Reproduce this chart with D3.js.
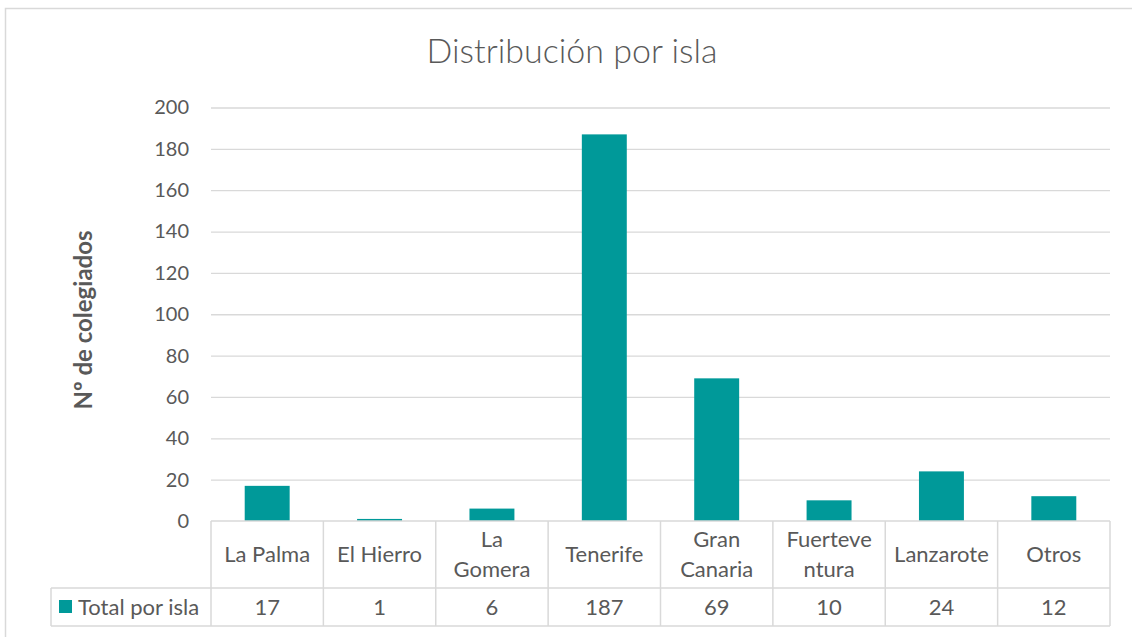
<!DOCTYPE html>
<html>
<head>
<meta charset="utf-8">
<script src="https://cdn.jsdelivr.net/npm/d3@7"></script>
<style>
  body { margin: 0; background: #fff; }
  text { font-family: Lato, "Open Sans", sans-serif; fill: #595959; }
</style>
</head>
<body>
<div id="chart"></div>
<script>
// data
const categories = ["La Palma", "El Hierro", "La Gomera", "Tenerife", "Gran Canaria", "Fuerteventura", "Lanzarote", "Otros"];
const categoryLines = [["La Palma"], ["El Hierro"], ["La", "Gomera"], ["Tenerife"], ["Gran", "Canaria"], ["Fuerteve", "ntura"], ["Lanzarote"], ["Otros"]];
const totals = [17, 1, 6, 187, 69, 10, 24, 12];
const yTicks = [0, 20, 40, 60, 80, 100, 120, 140, 160, 180, 200];
const seriesName = "Total por isla";

const width = 1132, height = 637;
const plot = {left: 211, right: 1110, top: 107.5, bottom: 521};
const rowLabelBottom = 588, rowValueBottom = 626, legendLeft = 51;
const grid = "#d9d9d9", barColor = "#009999";

const svg = d3.select("#chart").append("svg")
    .attr("width", width)
    .attr("height", height);

// outer chart frame (clipped on the right and bottom)
svg.append("rect")
    .attr("x", 5.5).attr("y", 8.5)
    .attr("width", 1200).attr("height", 700)
    .attr("fill", "none")
    .attr("stroke", grid)
    .attr("stroke-width", 1.5);

// title
svg.append("text")
    .attr("x", 572).attr("y", 63)
    .attr("text-anchor", "middle")
    .attr("font-size", 34)
    .attr("font-weight", 300)
    .text("Distribución por isla");

let y = d3.scaleLinear()
    .domain([0, 200])
    .range([plot.bottom, plot.top]);

let xCol = d3.scaleBand()
    .domain(categories)
    .range([plot.left, plot.right]);

let xBar = d3.scaleBand()
    .domain(categories)
    .range([plot.left, plot.right])
    .paddingInner(0.6)
    .paddingOuter(0.3);

// gridlines + tick labels
let yAxis = d3.axisLeft(y)
    .tickValues(yTicks)
    .tickSize(-(plot.right - plot.left))
    .tickPadding(22);

let yGroup = svg.append("g")
    .attr("transform", `translate(${plot.left},0)`)
    .call(yAxis);
yGroup.select(".domain").remove();
yGroup.selectAll("line")
    .attr("stroke", grid)
    .attr("stroke-width", 1.3)
    .filter(d => d === 0).remove();
yGroup.selectAll("text")
    .attr("font-size", 20)
    .attr("fill", "#595959")
    .style("font-family", "Lato, 'Open Sans', sans-serif");

// y axis title
svg.append("text")
    .attr("transform", "translate(92,320) rotate(-90)")
    .attr("text-anchor", "middle")
    .attr("font-size", 24)
    .attr("font-weight", "bold")
    .text("Nº de colegiados");

// bars
svg.append("g").selectAll("rect")
    .data(totals)
    .enter().append("rect")
    .attr("x", (d, i) => xBar(categories[i]))
    .attr("y", d => y(d))
    .attr("width", xBar.bandwidth())
    .attr("height", d => y(0) - y(d))
    .attr("fill", barColor);

// data table
let table = svg.append("g")
    .attr("fill", "none")
    .attr("stroke", grid)
    .attr("stroke-width", 1.5);

table.append("line")
    .attr("x1", plot.left).attr("x2", plot.right)
    .attr("y1", plot.bottom).attr("y2", plot.bottom);
table.append("line")
    .attr("x1", legendLeft).attr("x2", plot.right)
    .attr("y1", rowLabelBottom).attr("y2", rowLabelBottom);
table.append("line")
    .attr("x1", legendLeft).attr("x2", plot.right)
    .attr("y1", rowValueBottom).attr("y2", rowValueBottom);
table.append("line")
    .attr("x1", legendLeft).attr("x2", legendLeft)
    .attr("y1", rowLabelBottom).attr("y2", rowValueBottom);

table.selectAll(".col")
    .data(categories)
    .enter().append("line")
    .attr("x1", d => xCol(d) + xCol.bandwidth())
    .attr("x2", d => xCol(d) + xCol.bandwidth())
    .attr("y1", plot.bottom).attr("y2", rowValueBottom);
table.append("line")
    .attr("x1", plot.left).attr("x2", plot.left)
    .attr("y1", plot.bottom).attr("y2", rowValueBottom);

// category labels
let labelMid = (plot.bottom + rowLabelBottom) / 2;
let labels = svg.append("g").selectAll("text")
    .data(categoryLines)
    .enter().append("text")
    .attr("x", (d, i) => xCol(categories[i]) + xCol.bandwidth() / 2)
    .attr("y", d => labelMid - (d.length - 1) * 15)
    .attr("text-anchor", "middle")
    .attr("font-size", 22);
labels.selectAll("tspan")
    .data(d => d)
    .enter().append("tspan")
    .attr("x", function() { return this.parentNode.getAttribute("x"); })
    .attr("dy", (d, i) => i === 0 ? "0.35em" : 30)
    .text(d => d);

// values row
let valueMid = (rowLabelBottom + rowValueBottom) / 2;
svg.append("g").selectAll("text")
    .data(totals)
    .enter().append("text")
    .attr("x", (d, i) => xCol(categories[i]) + xCol.bandwidth() / 2)
    .attr("y", valueMid)
    .attr("dy", "0.35em")
    .attr("text-anchor", "middle")
    .attr("font-size", 22)
    .text(d => d);

// legend key
svg.append("rect")
    .attr("x", 59).attr("y", 600)
    .attr("width", 13).attr("height", 13)
    .attr("fill", barColor);
svg.append("text")
    .attr("x", 78).attr("y", valueMid)
    .attr("dy", "0.35em")
    .attr("font-size", 22)
    .text(seriesName);
</script>
</body>
</html>
